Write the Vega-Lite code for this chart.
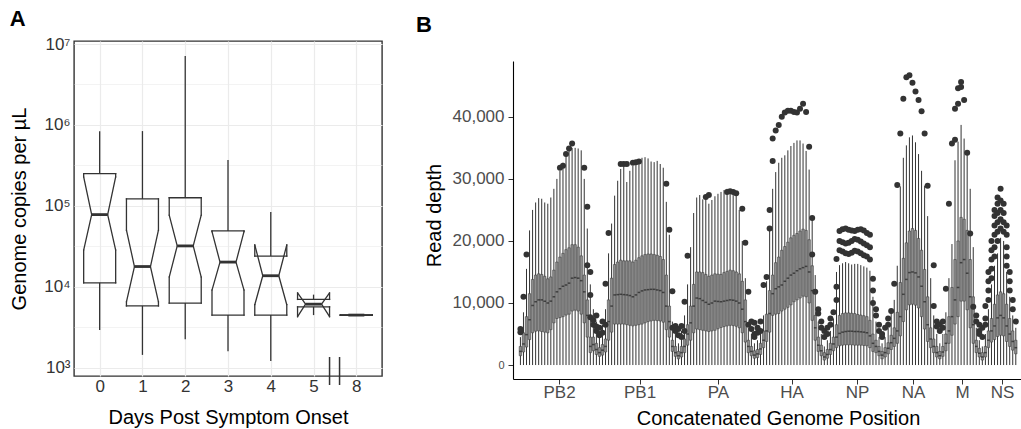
{
  "$schema": "https://vega.github.io/schema/vega-lite/v6.json",
  "padding": {"left": 9, "top": 7, "right": 0, "bottom": 0},
  "config": {"font": "Liberation Sans", "view": {"stroke": null}},
  "datasets": {
    "copies": [
      {"day":"0","lo":2920,"q1":11200,"nl":28400,"med":78000,"nu":228000,"q3":250000,"hi":836000},
      {"day":"1","lo":1440,"q1":5800,"nl":6500,"med":17800,"nu":50000,"q3":122000,"hi":840000},
      {"day":"2","lo":2240,"q1":6300,"nl":13200,"med":32000,"nu":77000,"q3":126000,"hi":7100000},
      {"day":"3","lo":1600,"q1":4470,"nl":9100,"med":20200,"nu":48000,"q3":49000,"hi":370000},
      {"day":"4","lo":1210,"q1":4470,"nl":6000,"med":13700,"nu":33000,"q3":24000,"hi":84000},
      {"day":"5","lo":4470,"q1":5660,"nl":4270,"med":6100,"nu":8400,"q3":6980,"hi":8000},
      {"day":"8","lo":4470,"q1":4470,"nl":4470,"med":4470,"nu":4470,"q3":4470,"hi":4470}
    ],
    "depth": [
      {"i":0,"lo":0,"q1":1500,"m":2200,"q3":3000,"hi":4500},
      {"i":1,"lo":0,"q1":2100,"m":3400,"q3":5200,"hi":8500},
      {"i":2,"lo":0,"q1":2900,"m":4900,"q3":7800,"hi":15500},
      {"i":3,"lo":0,"q1":4100,"m":7300,"q3":11500,"hi":21700},
      {"i":4,"lo":0,"q1":5200,"m":9600,"q3":13800,"hi":25000},
      {"i":5,"lo":0,"q1":5450,"m":10200,"q3":14500,"hi":26200},
      {"i":6,"lo":0,"q1":5500,"m":10500,"q3":14700,"hi":26900},
      {"i":7,"lo":0,"q1":5400,"m":10500,"q3":14600,"hi":26800},
      {"i":8,"lo":0,"q1":5300,"m":10300,"q3":14300,"hi":26200},
      {"i":9,"lo":0,"q1":5200,"m":10000,"q3":13900,"hi":26000},
      {"i":10,"lo":0,"q1":5700,"m":10300,"q3":14200,"hi":27000},
      {"i":11,"lo":0,"q1":6800,"m":11000,"q3":15300,"hi":28400},
      {"i":12,"lo":0,"q1":7500,"m":11800,"q3":16600,"hi":30000},
      {"i":13,"lo":0,"q1":7650,"m":12300,"q3":17400,"hi":31300},
      {"i":14,"lo":0,"q1":7800,"m":12700,"q3":18000,"hi":32600},
      {"i":15,"lo":0,"q1":8050,"m":12900,"q3":18600,"hi":33700},
      {"i":16,"lo":0,"q1":8200,"m":13200,"q3":18900,"hi":34500},
      {"i":17,"lo":0,"q1":8700,"m":14000,"q3":19400,"hi":35000},
      {"i":18,"lo":0,"q1":8850,"m":14100,"q3":19400,"hi":35000},
      {"i":19,"lo":0,"q1":8700,"m":14000,"q3":19000,"hi":34900},
      {"i":20,"lo":0,"q1":8200,"m":13600,"q3":17600,"hi":34600},
      {"i":21,"lo":0,"q1":6800,"m":11800,"q3":14500,"hi":30000},
      {"i":22,"lo":0,"q1":4500,"m":8000,"q3":10500,"hi":22000},
      {"i":23,"lo":0,"q1":2000,"m":3000,"q3":4500,"hi":13000},
      {"i":24,"lo":0,"q1":2300,"m":3300,"q3":4500,"hi":9000},
      {"i":25,"lo":0,"q1":1700,"m":2500,"q3":3500,"hi":7000},
      {"i":26,"lo":0,"q1":1400,"m":2000,"q3":2800,"hi":5500},
      {"i":27,"lo":0,"q1":1600,"m":2400,"q3":3300,"hi":6500},
      {"i":28,"lo":0,"q1":2100,"m":3000,"q3":4200,"hi":9000},
      {"i":29,"lo":0,"q1":4000,"m":7000,"q3":10500,"hi":18000},
      {"i":30,"lo":0,"q1":5300,"m":9500,"q3":14000,"hi":22800},
      {"i":31,"lo":0,"q1":6600,"m":11300,"q3":16200,"hi":27300},
      {"i":32,"lo":0,"q1":6600,"m":11350,"q3":16600,"hi":29700},
      {"i":33,"lo":0,"q1":6600,"m":11400,"q3":16900,"hi":31600},
      {"i":34,"lo":0,"q1":6600,"m":11350,"q3":16800,"hi":32000},
      {"i":35,"lo":0,"q1":6500,"m":11300,"q3":16800,"hi":29500},
      {"i":36,"lo":0,"q1":6400,"m":11200,"q3":16800,"hi":31300},
      {"i":37,"lo":0,"q1":6300,"m":11000,"q3":16600,"hi":32100},
      {"i":38,"lo":0,"q1":6400,"m":11300,"q3":16900,"hi":32600},
      {"i":39,"lo":0,"q1":6500,"m":11700,"q3":17300,"hi":33100},
      {"i":40,"lo":0,"q1":6600,"m":11950,"q3":17600,"hi":33400},
      {"i":41,"lo":0,"q1":6800,"m":12100,"q3":17800,"hi":33500},
      {"i":42,"lo":0,"q1":7000,"m":12150,"q3":17900,"hi":33300},
      {"i":43,"lo":0,"q1":7100,"m":12200,"q3":17900,"hi":32800},
      {"i":44,"lo":0,"q1":7200,"m":12200,"q3":17800,"hi":32700},
      {"i":45,"lo":0,"q1":7150,"m":12100,"q3":17700,"hi":32900},
      {"i":46,"lo":0,"q1":7100,"m":12000,"q3":17500,"hi":32400},
      {"i":47,"lo":0,"q1":6900,"m":11700,"q3":17000,"hi":31800},
      {"i":48,"lo":0,"q1":5700,"m":9500,"q3":14500,"hi":26300},
      {"i":49,"lo":0,"q1":4500,"m":7000,"q3":9500,"hi":21000},
      {"i":50,"lo":0,"q1":2200,"m":3000,"q3":4000,"hi":7000},
      {"i":51,"lo":0,"q1":1400,"m":2000,"q3":3000,"hi":5000},
      {"i":52,"lo":0,"q1":1000,"m":1500,"q3":2200,"hi":3500},
      {"i":53,"lo":0,"q1":1300,"m":2000,"q3":3000,"hi":5500},
      {"i":54,"lo":0,"q1":2000,"m":3000,"q3":4200,"hi":8000},
      {"i":55,"lo":0,"q1":3200,"m":5000,"q3":6500,"hi":13000},
      {"i":56,"lo":0,"q1":4000,"m":6800,"q3":9500,"hi":19000},
      {"i":57,"lo":0,"q1":5200,"m":9500,"q3":13000,"hi":24500},
      {"i":58,"lo":0,"q1":5800,"m":10800,"q3":15000,"hi":27000},
      {"i":59,"lo":0,"q1":5700,"m":10700,"q3":15000,"hi":27400},
      {"i":60,"lo":0,"q1":5600,"m":10400,"q3":14900,"hi":26700},
      {"i":61,"lo":0,"q1":5500,"m":10100,"q3":14600,"hi":26900},
      {"i":62,"lo":0,"q1":5400,"m":9800,"q3":14300,"hi":26000},
      {"i":63,"lo":0,"q1":5500,"m":10000,"q3":14500,"hi":26600},
      {"i":64,"lo":0,"q1":5600,"m":10300,"q3":14700,"hi":27200},
      {"i":65,"lo":0,"q1":5850,"m":10250,"q3":14650,"hi":27600},
      {"i":66,"lo":0,"q1":6050,"m":10200,"q3":14600,"hi":27900},
      {"i":67,"lo":0,"q1":6200,"m":10300,"q3":14900,"hi":28200},
      {"i":68,"lo":0,"q1":6300,"m":10400,"q3":15100,"hi":28400},
      {"i":69,"lo":0,"q1":6400,"m":10500,"q3":15300,"hi":28100},
      {"i":70,"lo":0,"q1":6350,"m":10450,"q3":15200,"hi":27900},
      {"i":71,"lo":0,"q1":6250,"m":10300,"q3":15000,"hi":27600},
      {"i":72,"lo":0,"q1":6000,"m":10000,"q3":14700,"hi":25000},
      {"i":73,"lo":0,"q1":5200,"m":9000,"q3":13500,"hi":20000},
      {"i":74,"lo":0,"q1":3700,"m":7000,"q3":10500,"hi":14000},
      {"i":75,"lo":0,"q1":2000,"m":3000,"q3":4000,"hi":6000},
      {"i":76,"lo":0,"q1":1500,"m":2200,"q3":3000,"hi":5000},
      {"i":77,"lo":0,"q1":1100,"m":1600,"q3":2300,"hi":3500},
      {"i":78,"lo":0,"q1":1200,"m":1800,"q3":2500,"hi":4000},
      {"i":79,"lo":0,"q1":1700,"m":2600,"q3":3500,"hi":6000},
      {"i":80,"lo":0,"q1":2800,"m":4000,"q3":5500,"hi":8000},
      {"i":81,"lo":0,"q1":3800,"m":5500,"q3":8200,"hi":13500},
      {"i":82,"lo":0,"q1":5300,"m":8300,"q3":12000,"hi":21800},
      {"i":83,"lo":0,"q1":8000,"m":11500,"q3":14500,"hi":28400},
      {"i":84,"lo":0,"q1":8200,"m":12300,"q3":16500,"hi":31100},
      {"i":85,"lo":0,"q1":8300,"m":12600,"q3":17400,"hi":32600},
      {"i":86,"lo":0,"q1":8700,"m":12900,"q3":18500,"hi":33400},
      {"i":87,"lo":0,"q1":9000,"m":13500,"q3":19100,"hi":33800},
      {"i":88,"lo":0,"q1":9300,"m":14000,"q3":19800,"hi":34600},
      {"i":89,"lo":0,"q1":9700,"m":14500,"q3":20500,"hi":35300},
      {"i":90,"lo":0,"q1":10200,"m":14800,"q3":20900,"hi":35800},
      {"i":91,"lo":0,"q1":10500,"m":15200,"q3":21200,"hi":36200},
      {"i":92,"lo":0,"q1":10800,"m":15500,"q3":21600,"hi":36200},
      {"i":93,"lo":0,"q1":11100,"m":15700,"q3":21900,"hi":35700},
      {"i":94,"lo":0,"q1":11000,"m":15900,"q3":21700,"hi":34500},
      {"i":95,"lo":0,"q1":10000,"m":15000,"q3":20200,"hi":31500},
      {"i":96,"lo":0,"q1":7200,"m":12000,"q3":16000,"hi":24000},
      {"i":97,"lo":0,"q1":4000,"m":6000,"q3":8000,"hi":14500},
      {"i":98,"lo":0,"q1":2200,"m":3200,"q3":4500,"hi":7000},
      {"i":99,"lo":0,"q1":1500,"m":2300,"q3":3200,"hi":5000},
      {"i":100,"lo":0,"q1":800,"m":1300,"q3":2000,"hi":3000},
      {"i":101,"lo":0,"q1":1100,"m":1700,"q3":2500,"hi":4000},
      {"i":102,"lo":0,"q1":1700,"m":2500,"q3":3500,"hi":5500},
      {"i":103,"lo":0,"q1":2300,"m":3400,"q3":4500,"hi":7500},
      {"i":104,"lo":0,"q1":2800,"m":4500,"q3":6500,"hi":15000},
      {"i":105,"lo":0,"q1":3100,"m":5100,"q3":8000,"hi":16100},
      {"i":106,"lo":0,"q1":3200,"m":5300,"q3":8300,"hi":16400},
      {"i":107,"lo":0,"q1":3250,"m":5400,"q3":8400,"hi":16600},
      {"i":108,"lo":0,"q1":3250,"m":5450,"q3":8400,"hi":16400},
      {"i":109,"lo":0,"q1":3250,"m":5450,"q3":8350,"hi":16200},
      {"i":110,"lo":0,"q1":3200,"m":5400,"q3":8300,"hi":16300},
      {"i":111,"lo":0,"q1":3200,"m":5400,"q3":8150,"hi":16300},
      {"i":112,"lo":0,"q1":3200,"m":5350,"q3":8050,"hi":16100},
      {"i":113,"lo":0,"q1":3150,"m":5300,"q3":7950,"hi":15900},
      {"i":114,"lo":0,"q1":3100,"m":5200,"q3":7800,"hi":15700},
      {"i":115,"lo":0,"q1":2800,"m":4700,"q3":7200,"hi":15200},
      {"i":116,"lo":0,"q1":2200,"m":3500,"q3":5000,"hi":11000},
      {"i":117,"lo":0,"q1":2000,"m":3000,"q3":4000,"hi":7000},
      {"i":118,"lo":0,"q1":1500,"m":2200,"q3":3000,"hi":4500},
      {"i":119,"lo":0,"q1":1000,"m":1600,"q3":2200,"hi":3500},
      {"i":120,"lo":0,"q1":1300,"m":2000,"q3":2800,"hi":4500},
      {"i":121,"lo":0,"q1":1800,"m":2700,"q3":3600,"hi":6000},
      {"i":122,"lo":0,"q1":2500,"m":3600,"q3":4800,"hi":8500},
      {"i":123,"lo":0,"q1":3000,"m":4300,"q3":6000,"hi":10500},
      {"i":124,"lo":0,"q1":3500,"m":5500,"q3":8500,"hi":16000},
      {"i":125,"lo":0,"q1":4700,"m":7800,"q3":13300,"hi":28800},
      {"i":126,"lo":0,"q1":7000,"m":11400,"q3":17200,"hi":33400},
      {"i":127,"lo":0,"q1":8900,"m":13800,"q3":19700,"hi":35400},
      {"i":128,"lo":0,"q1":9700,"m":14900,"q3":21600,"hi":36700},
      {"i":129,"lo":0,"q1":9800,"m":15000,"q3":22000,"hi":37000},
      {"i":130,"lo":0,"q1":9650,"m":14850,"q3":21700,"hi":35900},
      {"i":131,"lo":0,"q1":9200,"m":14200,"q3":20400,"hi":34000},
      {"i":132,"lo":0,"q1":7800,"m":12700,"q3":18500,"hi":31300},
      {"i":133,"lo":0,"q1":5800,"m":10200,"q3":15400,"hi":28900},
      {"i":134,"lo":0,"q1":3800,"m":6500,"q3":11000,"hi":24000},
      {"i":135,"lo":0,"q1":2800,"m":4200,"q3":6000,"hi":14000},
      {"i":136,"lo":0,"q1":2000,"m":3000,"q3":4200,"hi":8000},
      {"i":137,"lo":0,"q1":1300,"m":2000,"q3":3000,"hi":5000},
      {"i":138,"lo":0,"q1":1000,"m":1500,"q3":2200,"hi":3500},
      {"i":139,"lo":0,"q1":1400,"m":2100,"q3":3000,"hi":5000},
      {"i":140,"lo":0,"q1":2300,"m":3500,"q3":5000,"hi":8500},
      {"i":141,"lo":0,"q1":3500,"m":5500,"q3":7800,"hi":14000},
      {"i":142,"lo":0,"q1":4800,"m":7800,"q3":12500,"hi":19500},
      {"i":143,"lo":0,"q1":6600,"m":10500,"q3":17000,"hi":33000},
      {"i":144,"lo":0,"q1":7800,"m":12500,"q3":20000,"hi":36000},
      {"i":145,"lo":0,"q1":10300,"m":16500,"q3":23800,"hi":38700},
      {"i":146,"lo":0,"q1":10300,"m":17000,"q3":23500,"hi":36500},
      {"i":147,"lo":0,"q1":8900,"m":14800,"q3":21700,"hi":34000},
      {"i":148,"lo":0,"q1":6000,"m":11000,"q3":17000,"hi":28400},
      {"i":149,"lo":0,"q1":3500,"m":6500,"q3":11000,"hi":19000},
      {"i":150,"lo":0,"q1":2000,"m":3000,"q3":4000,"hi":6000},
      {"i":151,"lo":0,"q1":1300,"m":1900,"q3":2700,"hi":4000},
      {"i":152,"lo":0,"q1":800,"m":1300,"q3":2000,"hi":3000},
      {"i":153,"lo":0,"q1":1300,"m":2000,"q3":3000,"hi":5000},
      {"i":154,"lo":0,"q1":2800,"m":4000,"q3":5500,"hi":9000},
      {"i":155,"lo":0,"q1":3700,"m":5500,"q3":7500,"hi":13000},
      {"i":156,"lo":0,"q1":4100,"m":6300,"q3":9800,"hi":16000},
      {"i":157,"lo":0,"q1":4600,"m":7600,"q3":11300,"hi":18000},
      {"i":158,"lo":0,"q1":4800,"m":8000,"q3":11800,"hi":20500},
      {"i":159,"lo":0,"q1":4700,"m":7600,"q3":11500,"hi":20000},
      {"i":160,"lo":0,"q1":3800,"m":6300,"q3":9800,"hi":15000},
      {"i":161,"lo":0,"q1":3000,"m":5000,"q3":7500,"hi":11000},
      {"i":162,"lo":0,"q1":2400,"m":3800,"q3":5500,"hi":8000},
      {"i":163,"lo":0,"q1":1800,"m":2800,"q3":4000,"hi":6000}
    ],
    "outl": [
      {"i":0,"v":5300},{"i":0,"v":5800},{"i":1,"v":11000},{"i":2,"v":17800},
      {"i":13,"v":31800},{"i":14,"v":32100},{"i":15,"v":34000},{"i":16,"v":34900},{"i":17,"v":35700},
      {"i":21,"v":31800},{"i":22,"v":25500},{"i":22,"v":16100},{"i":23,"v":15000},{"i":23,"v":11300},{"i":23,"v":7700},
      {"i":24,"v":6500},{"i":24,"v":7200},{"i":25,"v":5500},{"i":25,"v":8000},{"i":25,"v":6200},
      {"i":26,"v":4800},{"i":26,"v":6000},{"i":27,"v":5200},{"i":27,"v":7000},{"i":28,"v":13100},{"i":28,"v":6500},
      {"i":29,"v":21300},{"i":33,"v":32400},{"i":34,"v":32400},{"i":35,"v":32400},{"i":37,"v":32600},{"i":38,"v":32700},{"i":39,"v":32800},
      {"i":48,"v":29200},{"i":49,"v":21800},{"i":50,"v":11900},{"i":50,"v":6000},{"i":51,"v":5500},{"i":51,"v":6300},
      {"i":52,"v":4800},{"i":52,"v":5800},{"i":53,"v":6300},{"i":53,"v":4500},{"i":54,"v":10200},{"i":54,"v":5500},
      {"i":55,"v":17600},{"i":61,"v":27100},{"i":62,"v":27400},{"i":68,"v":27900},{"i":69,"v":28000},{"i":70,"v":27900},{"i":71,"v":27700},
      {"i":73,"v":25200},{"i":74,"v":19700},{"i":75,"v":11800},{"i":75,"v":6500},{"i":76,"v":5800},{"i":76,"v":7000},
      {"i":77,"v":6800},{"i":77,"v":5000},{"i":77,"v":4500},{"i":78,"v":6000},{"i":78,"v":5200},{"i":79,"v":7000},{"i":79,"v":5500},
      {"i":80,"v":12900},{"i":81,"v":14200},{"i":82,"v":25000},{"i":82,"v":22000},{"i":83,"v":36500},{"i":83,"v":32900},
      {"i":84,"v":37800},{"i":85,"v":38700},{"i":86,"v":40000},{"i":87,"v":40700},{"i":88,"v":41000},{"i":89,"v":41000},
      {"i":90,"v":40800},{"i":91,"v":40700},{"i":92,"v":41300},{"i":93,"v":42100},{"i":94,"v":40800},{"i":95,"v":35200},
      {"i":96,"v":23700},{"i":96,"v":17800},{"i":97,"v":11800},{"i":98,"v":9000},{"i":98,"v":8300},{"i":99,"v":7000},{"i":99,"v":6000},
      {"i":100,"v":5500},{"i":100,"v":4500},{"i":101,"v":6000},{"i":101,"v":5000},{"i":102,"v":7500},{"i":102,"v":6500},{"i":103,"v":8500},
      {"i":104,"v":12600},{"i":104,"v":10500},{"i":104,"v":17100},
      {"i":105,"v":18500},{"i":105,"v":20000},{"i":105,"v":21600},
      {"i":106,"v":18300},{"i":106,"v":19800},{"i":106,"v":21900},
      {"i":107,"v":18000},{"i":107,"v":19600},{"i":107,"v":22000},
      {"i":108,"v":17900},{"i":108,"v":19700},{"i":108,"v":21800},
      {"i":109,"v":18100},{"i":109,"v":20000},{"i":109,"v":21700},
      {"i":110,"v":18400},{"i":110,"v":20300},{"i":110,"v":21600},
      {"i":111,"v":18300},{"i":111,"v":20200},{"i":111,"v":21800},
      {"i":112,"v":18000},{"i":112,"v":19900},{"i":112,"v":21900},
      {"i":113,"v":17700},{"i":113,"v":19600},{"i":113,"v":21700},
      {"i":114,"v":17500},{"i":114,"v":19300},{"i":114,"v":21300},
      {"i":115,"v":17000},{"i":115,"v":19000},{"i":115,"v":21000},
      {"i":116,"v":13900},{"i":116,"v":12000},{"i":116,"v":10000},
      {"i":117,"v":9000},{"i":117,"v":8000},{"i":118,"v":6500},{"i":118,"v":5500},{"i":119,"v":5000},{"i":119,"v":4500},
      {"i":120,"v":6000},{"i":121,"v":6500},{"i":121,"v":7500},{"i":122,"v":8700},
      {"i":123,"v":13100},{"i":124,"v":29000},{"i":125,"v":37300},{"i":126,"v":42900},{"i":127,"v":46400},{"i":128,"v":46700},
      {"i":129,"v":45500},{"i":130,"v":44100},{"i":131,"v":42700},{"i":132,"v":40900},{"i":133,"v":37300},{"i":134,"v":28900},
      {"i":136,"v":16100},{"i":136,"v":9500},{"i":137,"v":7000},{"i":137,"v":6200},{"i":138,"v":5500},{"i":138,"v":6500},{"i":139,"v":7000},{"i":139,"v":6000},
      {"i":140,"v":12300},{"i":141,"v":26000},{"i":142,"v":35700},{"i":143,"v":36300},{"i":143,"v":41300},{"i":144,"v":42100},{"i":144,"v":44600},
      {"i":145,"v":44800},{"i":145,"v":45600},{"i":146,"v":42700},{"i":147,"v":34200},{"i":148,"v":21200},{"i":149,"v":9400},
      {"i":150,"v":8000},{"i":150,"v":7000},{"i":151,"v":6500},{"i":151,"v":5500},{"i":151,"v":5000},{"i":152,"v":6000},{"i":152,"v":4500},
      {"i":153,"v":7500},{"i":153,"v":6500},{"i":153,"v":9500},
      {"i":154,"v":10500},{"i":154,"v":12000},{"i":154,"v":13500},{"i":154,"v":15000},
      {"i":155,"v":14000},{"i":155,"v":15500},{"i":155,"v":17000},{"i":155,"v":18500},{"i":155,"v":20000},
      {"i":156,"v":17500},{"i":156,"v":19000},{"i":156,"v":21000},{"i":156,"v":22500},{"i":156,"v":24000},{"i":156,"v":25000},
      {"i":157,"v":20000},{"i":157,"v":21500},{"i":157,"v":23000},{"i":157,"v":24500},{"i":157,"v":26000},{"i":157,"v":27000},
      {"i":158,"v":22000},{"i":158,"v":23500},{"i":158,"v":25000},{"i":158,"v":26500},{"i":158,"v":28400},
      {"i":159,"v":21500},{"i":159,"v":23000},{"i":159,"v":24500},{"i":159,"v":26000},
      {"i":160,"v":16000},{"i":160,"v":17500},{"i":160,"v":19000},{"i":160,"v":21000},{"i":160,"v":22500},
      {"i":161,"v":12000},{"i":161,"v":13500},{"i":161,"v":15000},{"i":162,"v":9000},{"i":162,"v":10500},{"i":163,"v":7000}
    ]
  },
  "columns": 2,
  "align": "none",
  "spacing": 33,
  "concat": [
    {
      "width": 308,
      "height": 335,
      "view": {"stroke": "#333333", "strokeWidth": 1.4},
      "title": {"text": "A", "anchor": "start", "frame": "bounds", "fontSize": 22, "fontWeight": "bold", "color": "#000000", "offset": 4},
      "data": {"name": "copies"},
      "encoding": {
        "x": {"field": "day", "type": "ordinal", "scale": {"type": "point", "padding": 0.6},
          "axis": {"title": "Days Post Symptom Onset", "labelAngle": 0, "grid": true, "gridColor": "#ebebeb", "gridWidth": 1.2, "domain": false, "ticks": false, "labelFontSize": 17, "labelColor": "#333333", "labelPadding": 2, "titleFontSize": 20, "titleFontWeight": "normal", "titleColor": "#000000", "titlePadding": 13}}
      },
      "layer": [
        {
          "mark": {"type": "rule", "color": "#333333", "strokeWidth": 1.3},
          "encoding": {
            "y": {"field": "q3", "type": "quantitative", "scale": {"type": "log", "domain": [790, 10900000], "nice": false},
              "axis": {"title": "Genome copies per µL", "values": [1000, 3162.28, 10000, 31622.8, 100000, 316228, 1000000, 3162280, 10000000],
                "labelExpr": "datum.value < 2000 ? '10³' : datum.value < 5000 ? '' : datum.value < 20000 ? '10⁴' : datum.value < 50000 ? '' : datum.value < 200000 ? '10⁵' : datum.value < 500000 ? '' : datum.value < 2000000 ? '10⁶' : datum.value < 5000000 ? '' : '10⁷'",
                "grid": true, "gridColor": "#ebebeb",
                "gridWidth": {"condition": {"test": "datum.value < 2000 || (datum.value > 5000 && datum.value < 20000) || (datum.value > 50000 && datum.value < 200000) || (datum.value > 500000 && datum.value < 2000000) || datum.value > 5000000", "value": 1.2}, "value": 0.6},
                "domain": false, "ticks": false, "labelFontSize": 17, "labelColor": "#333333", "labelPadding": 4, "titleFontSize": 20, "titleFontWeight": "normal", "titleColor": "#000000", "titlePadding": 14}},
            "y2": {"field": "hi"}
          }
        },
        {"mark": {"type": "rule", "color": "#333333", "strokeWidth": 1.3},
         "encoding": {"y": {"field": "lo", "type": "quantitative"}, "y2": {"field": "q1"}}},
        {"mark": {"type": "rule", "color": "#333333", "strokeWidth": 1.3, "xOffset": -16, "x2Offset": 16, "strokeCap": "square"},
         "encoding": {"x2": {"field": "day"}, "y": {"field": "q3", "type": "quantitative"}}},
        {"mark": {"type": "rule", "color": "#333333", "strokeWidth": 1.3, "xOffset": -16, "x2Offset": 16, "strokeCap": "square"},
         "encoding": {"x2": {"field": "day"}, "y": {"field": "q1", "type": "quantitative"}}},
        {"mark": {"type": "rule", "color": "#333333", "strokeWidth": 1.3, "xOffset": -16, "strokeCap": "square"},
         "encoding": {"y": {"field": "q3", "type": "quantitative"}, "y2": {"field": "nu"}}},
        {"mark": {"type": "rule", "color": "#333333", "strokeWidth": 1.3, "xOffset": 16, "strokeCap": "square"},
         "encoding": {"y": {"field": "q3", "type": "quantitative"}, "y2": {"field": "nu"}}},
        {"mark": {"type": "rule", "color": "#333333", "strokeWidth": 1.3, "xOffset": -16, "strokeCap": "square"},
         "encoding": {"y": {"field": "nl", "type": "quantitative"}, "y2": {"field": "q1"}}},
        {"mark": {"type": "rule", "color": "#333333", "strokeWidth": 1.3, "xOffset": 16, "strokeCap": "square"},
         "encoding": {"y": {"field": "nl", "type": "quantitative"}, "y2": {"field": "q1"}}},
        {"mark": {"type": "rule", "color": "#333333", "strokeWidth": 1.3, "xOffset": -16, "x2Offset": -8, "strokeCap": "round"},
         "encoding": {"x2": {"field": "day"}, "y": {"field": "nu", "type": "quantitative"}, "y2": {"field": "med"}}},
        {"mark": {"type": "rule", "color": "#333333", "strokeWidth": 1.3, "xOffset": -16, "x2Offset": -8, "strokeCap": "round"},
         "encoding": {"x2": {"field": "day"}, "y": {"field": "nl", "type": "quantitative"}, "y2": {"field": "med"}}},
        {"mark": {"type": "rule", "color": "#333333", "strokeWidth": 1.3, "xOffset": 16, "x2Offset": 8, "strokeCap": "round"},
         "encoding": {"x2": {"field": "day"}, "y": {"field": "nu", "type": "quantitative"}, "y2": {"field": "med"}}},
        {"mark": {"type": "rule", "color": "#333333", "strokeWidth": 1.3, "xOffset": 16, "x2Offset": 8, "strokeCap": "round"},
         "encoding": {"x2": {"field": "day"}, "y": {"field": "nl", "type": "quantitative"}, "y2": {"field": "med"}}},
        {"mark": {"type": "rule", "color": "#333333", "strokeWidth": 2.8, "xOffset": -8, "x2Offset": 8},
         "encoding": {"x2": {"field": "day"}, "y": {"field": "med", "type": "quantitative"}}},
        {"transform": [{"filter": "datum.day == '5'"}],
         "mark": {"type": "rule", "color": "#333333", "strokeWidth": 1.5, "xOffset": 16, "clip": false},
         "encoding": {"y": {"datum": 611, "type": "quantitative"}, "y2": {"datum": 1356}}},
        {"transform": [{"filter": "datum.day == '5'"}],
         "mark": {"type": "rule", "color": "#333333", "strokeWidth": 1.5, "xOffset": 26, "clip": false},
         "encoding": {"y": {"datum": 611, "type": "quantitative"}, "y2": {"datum": 1356}}}
      ]
    },
    {
      "width": 509,
      "height": 338,
      "title": {"text": "B", "anchor": "start", "frame": "bounds", "fontSize": 22, "fontWeight": "bold", "color": "#000000", "offset": 4, "dx": -8},
      "data": {"name": "depth"},
      "layer": [
        {
          "mark": {"type": "rule", "color": "#333333", "strokeWidth": 1},
          "encoding": {
            "x": {"field": "i", "type": "quantitative", "scale": {"domain": [-0.8, 163.4], "nice": false, "zero": false},
              "axis": {"title": "Concatenated Genome Position", "titleX": 265, "values": [12.7, 39.2, 65, 89.2, 110.8, 129.2, 145.3, 158.5],
                "labelExpr": "datum.value < 20 ? 'PB2' : datum.value < 50 ? 'PB1' : datum.value < 70 ? 'PA' : datum.value < 100 ? 'HA' : datum.value < 120 ? 'NP' : datum.value < 140 ? 'NA' : datum.value < 150 ? 'M' : 'NS'",
                "grid": false, "domainColor": "#000000", "domainWidth": 1.1, "tickColor": "#333333", "tickSize": 5, "tickWidth": 1, "labelFontSize": 17, "labelColor": "#4d4d4d", "labelPadding": 0, "titleFontSize": 20, "titleFontWeight": "normal", "titleColor": "#000000", "titlePadding": 8}},
            "y": {"field": "lo", "type": "quantitative", "scale": {"domain": [-2250, 49000], "nice": false, "zero": false, "range": [338, 20]},
              "axis": {"title": "Read depth", "titleY": 174, "values": [0, 10000, 20000, 30000, 40000], "labelExpr": "format(datum.value, ',')",
                "grid": false, "domainColor": "#000000", "domainWidth": 1.1, "tickColor": "#333333", "tickSize": 5, "tickWidth": 1,
                "labelFontSize": {"condition": {"test": "datum.value == 0", "value": 11}, "value": 17},
                "labelColor": "#4d4d4d", "labelPadding": 4, "titleFontSize": 20, "titleFontWeight": "normal", "titleColor": "#000000", "titlePadding": 8}},
            "y2": {"field": "hi"}
          }
        },
        {
          "mark": {"type": "bar", "width": 2.5, "fill": "#8c8c8c", "stroke": "#333333", "strokeWidth": 0.5},
          "encoding": {"x": {"field": "i", "type": "quantitative"}, "y": {"field": "q1", "type": "quantitative"}, "y2": {"field": "q3"}}
        },
        {
          "mark": {"type": "tick", "orient": "horizontal", "size": 2.6, "thickness": 1.5, "color": "#222222"},
          "encoding": {"x": {"field": "i", "type": "quantitative"}, "y": {"field": "m", "type": "quantitative"}}
        },
        {
          "data": {"name": "outl"},
          "mark": {"type": "circle", "size": 36, "color": "#333333", "opacity": 1},
          "encoding": {"x": {"field": "i", "type": "quantitative"}, "y": {"field": "v", "type": "quantitative"}}
        }
      ]
    }
  ]
}
